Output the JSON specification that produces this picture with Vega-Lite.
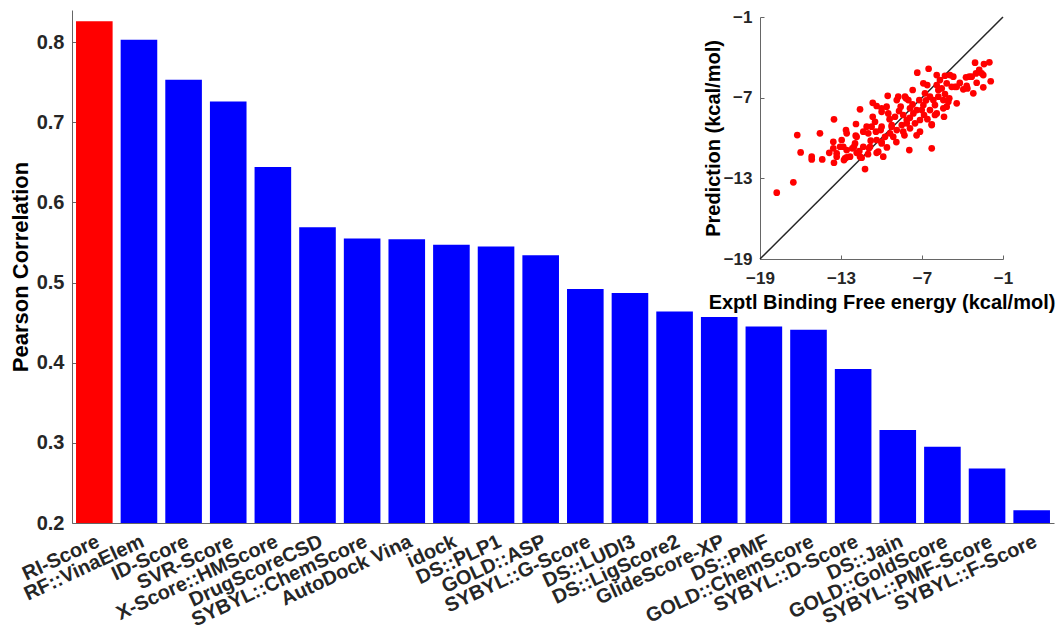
{
  "$schema": "https://vega.github.io/schema/vega-lite/v6.json",
  "width": 982,
  "height": 513,
  "autosize": {"type": "none"},
  "padding": {"left": 72, "top": 10, "right": 3, "bottom": 105},
  "background": "white",
  "config": {
    "view": {"stroke": null},
    "font": "Liberation Sans",
    "axis": {
      "labelFont": "Liberation Sans",
      "titleFont": "Liberation Sans",
      "labelFontWeight": "bold",
      "titleFontWeight": "bold",
      "labelColor": "#262626",
      "titleColor": "#000000",
      "domainColor": "#666666",
      "tickColor": "#666666",
      "grid": false
    }
  },
  "datasets": {
    "scores": [
      {"method": "RI-Score", "pearson": 0.826},
      {"method": "RF::VinaElem", "pearson": 0.803},
      {"method": "ID-Score", "pearson": 0.753},
      {"method": "SVR-Score", "pearson": 0.726},
      {"method": "X-Score::HMScore", "pearson": 0.644},
      {"method": "DrugScoreCSD", "pearson": 0.569},
      {"method": "SYBYL::ChemScore", "pearson": 0.555},
      {"method": "AutoDock Vina", "pearson": 0.554},
      {"method": "idock", "pearson": 0.547},
      {"method": "DS::PLP1", "pearson": 0.545},
      {"method": "GOLD::ASP", "pearson": 0.534},
      {"method": "SYBYL::G-Score", "pearson": 0.492},
      {"method": "DS::LUDI3", "pearson": 0.487},
      {"method": "DS::LigScore2", "pearson": 0.464},
      {"method": "GlideScore-XP", "pearson": 0.457},
      {"method": "DS::PMF", "pearson": 0.445},
      {"method": "GOLD::ChemScore", "pearson": 0.441},
      {"method": "SYBYL::D-Score", "pearson": 0.392},
      {"method": "DS::Jain", "pearson": 0.316},
      {"method": "GOLD::GoldScore", "pearson": 0.295},
      {"method": "SYBYL::PMF-Score", "pearson": 0.268},
      {"method": "SYBYL::F-Score", "pearson": 0.216}
    ],
    "diag": [{"x1": -19, "y1": -19, "x2": -1, "y2": -1}],
    "pts": [
      {"expt": -16.24, "pred": -9.78}, {"expt": -14.56, "pred": -9.65}, {"expt": -13.52, "pred": -8.61},
      {"expt": -15.99, "pred": -11.07}, {"expt": -15.17, "pred": -11.39}, {"expt": -14.39, "pred": -11.59},
      {"expt": -13.87, "pred": -11.1}, {"expt": -13.57, "pred": -10.28}, {"expt": -12.95, "pred": -10.15},
      {"expt": -12.63, "pred": -9.41}, {"expt": -11.89, "pred": -8.96}, {"expt": -11.59, "pred": -7.87},
      {"expt": -12.04, "pred": -10.65}, {"expt": -11.35, "pred": -10.65}, {"expt": -10.98, "pred": -9.65},
      {"expt": -10.73, "pred": -9.16}, {"expt": -10.65, "pred": -7.38}, {"expt": -10.36, "pred": -7.62},
      {"expt": -9.99, "pred": -7.79}, {"expt": -9.62, "pred": -7.67}, {"expt": -9.54, "pred": -6.86},
      {"expt": -10.65, "pred": -8.42}, {"expt": -10.41, "pred": -9.53}, {"expt": -10.06, "pred": -9.41},
      {"expt": -9.74, "pred": -9.91}, {"expt": -9.37, "pred": -9.65}, {"expt": -9.25, "pred": -9.16},
      {"expt": -9.0, "pred": -8.42}, {"expt": -8.87, "pred": -7.18}, {"expt": -8.76, "pred": -6.93},
      {"expt": -8.58, "pred": -7.67}, {"expt": -8.39, "pred": -8.29}, {"expt": -8.19, "pred": -7.05},
      {"expt": -8.01, "pred": -7.18}, {"expt": -7.89, "pred": -7.79}, {"expt": -7.69, "pred": -6.43},
      {"expt": -7.35, "pred": -5.14}, {"expt": -7.2, "pred": -7.18}, {"expt": -6.9, "pred": -5.93},
      {"expt": -6.78, "pred": -6.68}, {"expt": -6.61, "pred": -6.06}, {"expt": -6.51, "pred": -4.85},
      {"expt": -6.41, "pred": -6.93}, {"expt": -6.16, "pred": -7.18}, {"expt": -5.91, "pred": -5.32},
      {"expt": -5.79, "pred": -6.43}, {"expt": -5.67, "pred": -5.69}, {"expt": -5.54, "pred": -6.31},
      {"expt": -5.42, "pred": -7.18}, {"expt": -5.17, "pred": -7.67}, {"expt": -4.93, "pred": -5.32},
      {"expt": -4.68, "pred": -5.44}, {"expt": -4.43, "pred": -6.19}, {"expt": -5.17, "pred": -5.93},
      {"expt": -5.3, "pred": -6.73}, {"expt": -3.74, "pred": -5.49}, {"expt": -3.5, "pred": -5.44},
      {"expt": -3.07, "pred": -4.4}, {"expt": -2.76, "pred": -4.94}, {"expt": -2.41, "pred": -4.5},
      {"expt": -2.01, "pred": -4.37}, {"expt": -2.46, "pred": -5.32}, {"expt": -1.91, "pred": -5.78},
      {"expt": -2.46, "pred": -6.23}, {"expt": -3.2, "pred": -6.68}, {"expt": -2.95, "pred": -5.89},
      {"expt": -3.69, "pred": -6.13}, {"expt": -3.94, "pred": -6.38}, {"expt": -4.8, "pred": -6.19},
      {"expt": -8.5, "pred": -9.04}, {"expt": -8.13, "pred": -8.66}, {"expt": -7.64, "pred": -8.17},
      {"expt": -7.39, "pred": -7.92}, {"expt": -7.02, "pred": -7.92}, {"expt": -6.85, "pred": -8.29},
      {"expt": -7.15, "pred": -8.66}, {"expt": -7.52, "pred": -8.91}, {"expt": -7.89, "pred": -9.28},
      {"expt": -8.39, "pred": -9.53}, {"expt": -8.87, "pred": -9.41}, {"expt": -9.13, "pred": -9.91},
      {"expt": -7.15, "pred": -9.53}, {"expt": -6.28, "pred": -8.98}, {"expt": -6.28, "pred": -10.77},
      {"expt": -7.94, "pred": -10.9}, {"expt": -5.37, "pred": -8.42}, {"expt": -5.91, "pred": -8.17},
      {"expt": -6.41, "pred": -7.92}, {"expt": -6.04, "pred": -7.55}, {"expt": -5.05, "pred": -7.3},
      {"expt": -10.36, "pred": -10.15}, {"expt": -9.99, "pred": -10.4}, {"expt": -10.85, "pred": -10.65},
      {"expt": -11.59, "pred": -11.39}, {"expt": -12.33, "pred": -11.39}, {"expt": -12.58, "pred": -10.9},
      {"expt": -13.07, "pred": -10.65}, {"expt": -13.32, "pred": -11.14}, {"expt": -11.84, "pred": -9.91},
      {"expt": -11.35, "pred": -9.53}, {"expt": -11.1, "pred": -9.16}, {"expt": -9.87, "pred": -11.39},
      {"expt": -10.24, "pred": -11.02}, {"expt": -15.17, "pred": -11.59}, {"expt": -13.52, "pred": -11.84},
      {"expt": -13.32, "pred": -11.39}, {"expt": -12.78, "pred": -11.64}, {"expt": -12.58, "pred": -11.44},
      {"expt": -11.84, "pred": -11.1}, {"expt": -11.22, "pred": -12.31}, {"expt": -10.36, "pred": -11.1},
      {"expt": -16.53, "pred": -13.3}, {"expt": -17.76, "pred": -14.07}, {"expt": -13.57, "pred": -10.77},
      {"expt": -12.83, "pred": -10.65}, {"expt": -12.58, "pred": -9.65}, {"expt": -12.7, "pred": -11.51},
      {"expt": -12.16, "pred": -10.77}, {"expt": -11.96, "pred": -10.4}, {"expt": -11.91, "pred": -9.83},
      {"expt": -11.64, "pred": -10.97}, {"expt": -11.47, "pred": -11.47}, {"expt": -10.93, "pred": -10.77},
      {"expt": -9.99, "pred": -10.28}, {"expt": -2.58, "pred": -5.19}, {"expt": -3.32, "pred": -5.44},
      {"expt": -3.64, "pred": -6.31}, {"expt": -4.56, "pred": -6.19}, {"expt": -5.3, "pred": -5.37},
      {"expt": -5.91, "pred": -6.06}, {"expt": -8.26, "pred": -6.93}, {"expt": -5.79, "pred": -6.93},
      {"expt": -4.98, "pred": -7.05}, {"expt": -4.43, "pred": -7.42}, {"expt": -6.9, "pred": -7.55},
      {"expt": -5.42, "pred": -7.79}, {"expt": -6.04, "pred": -8.29}, {"expt": -6.28, "pred": -9.04},
      {"expt": -8.13, "pred": -8.91}, {"expt": -9.99, "pred": -8.05}, {"expt": -9.5, "pred": -8.17},
      {"expt": -10.48, "pred": -8.79}, {"expt": -9.99, "pred": -9.16}, {"expt": -9.24, "pred": -9.04},
      {"expt": -8.7, "pred": -8.0}, {"expt": -7.9, "pred": -8.5}, {"expt": -8.3, "pred": -9.8},
      {"expt": -6.6, "pred": -8.6}, {"expt": -7.4, "pred": -9.8}, {"expt": -9.4, "pred": -8.6},
      {"expt": -10.8, "pred": -10.2}, {"expt": -11.0, "pred": -11.2}, {"expt": -7.7, "pred": -7.5},
      {"expt": -6.7, "pred": -7.2}, {"expt": -4.2, "pred": -5.9}, {"expt": -3.0, "pred": -5.2},
      {"expt": -8.9, "pred": -10.3}, {"expt": -9.6, "pred": -10.7}
    ]
  },
  "layer": [
    {
      "data": {"name": "scores"},
      "mark": {"type": "bar"},
      "encoding": {
        "x": {
          "field": "method",
          "type": "nominal",
          "sort": null,
          "scale": {"paddingInner": 0.18, "paddingOuter": 0.09},
          "axis": {
            "title": null,
            "labelAngle": -25,
            "labelAlign": "right",
            "labelBaseline": "middle",
            "labelFontSize": 20,
            "labelPadding": 17,
            "labelOffset": 4,
            "labelLimit": 400,
            "ticks": false,
            "labelOverlap": false
          }
        },
        "y": {
          "field": "pearson",
          "type": "quantitative",
          "scale": {"domain": [0.2, 0.84], "zero": false, "nice": false},
          "axis": {
            "title": "Pearson Correlation",
            "values": [0.2, 0.3, 0.4, 0.5, 0.6, 0.7, 0.8],
            "format": ".1f",
            "labelFontSize": 20,
            "titleFontSize": 22,
            "tickSize": -5,
            "labelPadding": 13,
            "titlePadding": 4
          }
        },
        "y2": {"datum": 0.2},
        "color": {
          "condition": {"test": "datum.method === 'RI-Score'", "value": "#ff0000"},
          "value": "#0000ff"
        }
      }
    },
    {
      "layer": [
        {
          "data": {"name": "diag"},
          "mark": {"type": "rule", "color": "#262626", "strokeWidth": 1.5},
          "encoding": {
            "x": {"field": "x1", "type": "quantitative"},
            "y": {"field": "y1", "type": "quantitative"},
            "x2": {"field": "x2"},
            "y2": {"field": "y2"}
          }
        },
        {
          "data": {"name": "pts"},
          "mark": {"type": "circle", "color": "#ff0000", "opacity": 1, "size": 45},
          "encoding": {
            "x": {"field": "expt", "type": "quantitative"},
            "y": {"field": "pred", "type": "quantitative"}
          }
        }
      ],
      "encoding": {
        "x": {
          "type": "quantitative",
          "scale": {"domain": [-19, -1], "range": [688, 931], "nice": false, "zero": false},
          "axis": {
            "orient": "bottom",
            "offset": -264,
            "values": [-19, -13, -7, -1],
            "title": "Exptl Binding Free energy (kcal/mol)",
            "labelFontSize": 17,
            "titleFontSize": 20,
            "tickSize": -4,
            "labelPadding": 15,
            "labelFlush": false,
            "titlePadding": 6
          }
        },
        "y": {
          "type": "quantitative",
          "scale": {"domain": [-19, -1], "range": [249, 7], "nice": false, "zero": false},
          "axis": {
            "orient": "left",
            "offset": -688,
            "values": [-19, -13, -7, -1],
            "title": "Prediction (kcal/mol)",
            "labelFontSize": 17,
            "titleFontSize": 20,
            "tickSize": -4,
            "labelPadding": 12,
            "labelFlush": false,
            "titlePadding": 0
          }
        }
      }
    }
  ],
  "resolve": {
    "scale": {"x": "independent", "y": "independent"},
    "axis": {"x": "independent", "y": "independent"}
  }
}
